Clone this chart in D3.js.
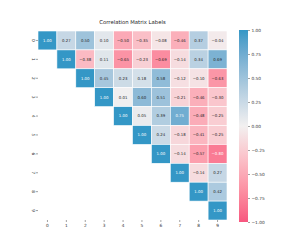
<!DOCTYPE html>
<html>
<head>
<meta charset="utf-8">
<script src="https://cdn.jsdelivr.net/npm/d3@7"></script>
<style>
  body { margin: 0; background: #fff; }
  text { font-family: "DejaVu Sans", sans-serif; }
</style>
</head>
<body>
<div id="chart"></div>
<script>
// ========= Data ========= //
const labels = ['0', '1', '2', '3', '4', '5', '6', '7', '8', '9'];
const row0 = [1.00, 0.27, 0.50, 0.10, -0.50, -0.35, -0.08, -0.46, 0.37, -0.04];
const row1 = [1.00, -0.38, 0.11, -0.65, -0.23, -0.69, -0.14, 0.34, 0.69];
const row2 = [1.00, 0.45, 0.23, 0.18, 0.58, -0.12, -0.10, -0.63];
const row3 = [1.00, 0.01, 0.60, 0.51, -0.21, -0.46, -0.30];
const row4 = [1.00, 0.05, 0.39, 0.75, -0.48, -0.25];
const row5 = [1.00, 0.24, -0.18, -0.41, -0.25];
const row6 = [1.00, -0.14, -0.57, -0.80];
const row7 = [1.00, -0.14, 0.27];
const row8 = [1.00, 0.42];
const row9 = [1.00];
const rows = [row0, row1, row2, row3, row4, row5, row6, row7, row8, row9];
const cbTicks = [1, 0.75, 0.5, 0.25, 0, -0.25, -0.5, -0.75, -1];

const width = 305, height = 249;
const gridLeft = 38, gridTop = 31, gridSize = 189;

const cells = [];
rows.forEach((r, i) => r.forEach((v, k) => cells.push({ row: i, col: i + k, value: v })));

// ========= Scales ========= //
const x = d3.scaleBand().domain(labels).range([gridLeft, gridLeft + gridSize]);
const y = d3.scaleBand().domain(labels).range([gridTop, gridTop + gridSize]);
const color = d3.scaleLinear()
  .domain([-1, 0, 1])
  .range(['#f7577f', '#f2f0f0', '#3497c6'])
  .interpolate(d3.interpolateLab);

// relative luminance, same rule as seaborn's annotation colour
function textColor(v) {
  const c = d3.rgb(color(v));
  const lin = (u) => {
    u /= 255;
    return u <= 0.03928 ? u / 12.92 : Math.pow((u + 0.055) / 1.055, 2.4);
  };
  const lum = 0.2126 * lin(c.r) + 0.7152 * lin(c.g) + 0.0722 * lin(c.b);
  return lum < 0.408 ? '#ffffff' : '#262626';
}

const svg = d3.select('#chart').append('svg')
  .attr('width', width)
  .attr('height', height);

// ========= Title ========= //
svg.append('text')
  .attr('x', gridLeft + gridSize / 2)
  .attr('y', gridTop - 7)
  .attr('text-anchor', 'middle')
  .attr('font-size', 5.3)
  .attr('fill', '#222')
  .text('Correlation Matrix Labels');

// ========= Cells ========= //
const g = svg.append('g');
g.selectAll('rect')
  .data(cells)
  .join('rect')
  .attr('x', (d) => x(labels[d.col]))
  .attr('y', (d) => y(labels[d.row]))
  .attr('width', x.bandwidth())
  .attr('height', y.bandwidth())
  .attr('fill', (d) => color(d.value))
  .attr('stroke', '#fff')
  .attr('stroke-width', 0.6);

g.selectAll('text')
  .data(cells)
  .join('text')
  .attr('x', (d) => x(labels[d.col]) + x.bandwidth() / 2)
  .attr('y', (d) => y(labels[d.row]) + y.bandwidth() / 2)
  .attr('dy', '0.35em')
  .attr('text-anchor', 'middle')
  .attr('font-size', 3.9)
  .attr('fill', (d) => textColor(d.value))
  .text((d) => d3.format('.2f')(d.value));

// ========= Axes ========= //
const xAxis = svg.append('g')
  .attr('transform', `translate(0,${gridTop + gridSize})`)
  .call(d3.axisBottom(x).tickSize(2).tickPadding(2));
xAxis.select('.domain').remove();
xAxis.selectAll('line').attr('stroke', '#444').attr('stroke-width', 0.5);
xAxis.selectAll('text').attr('font-size', 4.3).attr('fill', '#333');

const yAxis = svg.append('g')
  .attr('transform', `translate(${gridLeft},0)`)
  .call(d3.axisLeft(y).tickSize(2).tickPadding(2));
yAxis.select('.domain').remove();
yAxis.selectAll('line').attr('stroke', '#444').attr('stroke-width', 0.5);
// y labels are rotated like seaborn's default
yAxis.selectAll('text')
  .attr('font-size', 4.3)
  .attr('fill', '#333')
  .attr('text-anchor', 'middle')
  .attr('x', 0)
  .attr('y', 0)
  .attr('dy', 0)
  .attr('transform', 'translate(-4.8,0) rotate(90)')
  .attr('dominant-baseline', 'central');

// ========= Colorbar ========= //
const cbX = 239, cbW = 9, cbTop = 30, cbBottom = 222;
const cbScale = d3.scaleLinear().domain([-1, 1]).range([cbBottom, cbTop]);
const defs = svg.append('defs');
const grad = defs.append('linearGradient')
  .attr('id', 'cb-grad')
  .attr('x1', 0).attr('y1', 1).attr('x2', 0).attr('y2', 0);
d3.range(-1, 1.001, 0.1).forEach((v) => {
  grad.append('stop')
    .attr('offset', `${(v + 1) / 2 * 100}%`)
    .attr('stop-color', color(v));
});
svg.append('rect')
  .attr('x', cbX)
  .attr('y', cbTop)
  .attr('width', cbW)
  .attr('height', cbBottom - cbTop)
  .attr('fill', 'url(#cb-grad)');

const cbAxis = svg.append('g')
  .attr('transform', `translate(${cbX + cbW},0)`)
  .call(d3.axisRight(cbScale).tickValues(cbTicks).tickSize(2).tickPadding(1.5)
    .tickFormat((d) => d3.format('.2f')(d).replace('-', '\u2212')));
cbAxis.select('.domain').remove();
cbAxis.selectAll('line').attr('stroke', '#444').attr('stroke-width', 0.5);
cbAxis.selectAll('text').attr('font-size', 4.3).attr('fill', '#333');
</script>
</body>
</html>
